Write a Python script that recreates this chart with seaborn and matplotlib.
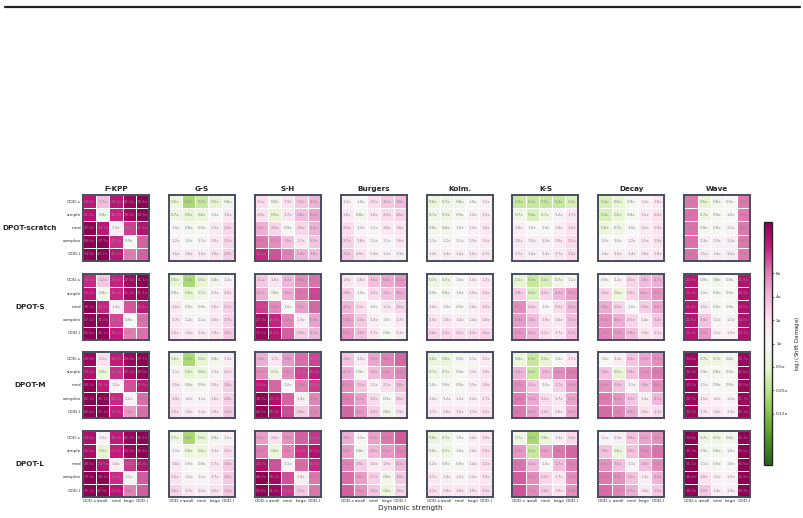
import numpy as np
import matplotlib
matplotlib.use('Agg')
import matplotlib.pyplot as plt
import seaborn as sns
from matplotlib.lines import Line2D

sns.set_style("white")
plt.rcParams['font.family'] = ['DejaVu Sans']

# ====================== DATA ======================
pdes = ['F-KPP', 'G-S', 'S-H', 'Burgers', 'Kolm.', 'K-S', 'Decay', 'Wave']
models = ['DPOT-scratch', 'DPOT-S', 'DPOT-M', 'DPOT-L']
train_labels = ['OOD-s', 'simple', 'med', 'complex', 'OOD-l']
test_labels = ['OOD-s', 'small', 'med', 'large', 'OOD-l']

# shift damage ratios, one 5x5 block per PDE (rows = train, cols = test)
scratch_vals = [
    [[19.9, 3.7, 20.4, 31.4, 39.4], [21.2, 0.8, 16.7, 28.0, 34.9], [47.9, 19.7, 1.3, 13.6, 22.2],
     [68.6, 37.2, 15.2, 0.9, 10.3], [74.9, 42.7, 20.7, 8.1, 10.6]],
    [[0.6, 0.2, 0.3, 0.5, 0.8], [0.7, 0.5, 0.6, 1.0, 1.6], [1.0, 0.8, 0.9, 1.5, 2.4],
     [1.2, 1.0, 1.1, 1.6, 2.5], [1.5, 1.6, 1.5, 1.9, 2.9]],
    [[2.1, 0.8, 1.9, 3.2, 4.4], [2.0, 0.5, 1.7, 3.6, 5.3], [4.6, 2.6, 0.9, 2.5, 4.5],
     [8.7, 6.7, 3.5, 1.7, 3.2], [16.1, 11.9, 7.6, 4.4, 3.8]],
    [[1.2, 1.0, 2.1, 3.1, 3.8], [1.6, 0.8, 1.6, 2.2, 2.6], [2.2, 1.2, 1.1, 1.6, 1.8],
     [2.7, 1.6, 1.1, 1.1, 1.6], [3.2, 2.0, 1.3, 1.2, 1.3]],
    [[0.6, 0.7, 0.8, 1.0, 1.2], [0.7, 0.7, 0.9, 1.2, 1.5], [0.8, 0.8, 1.0, 1.2, 1.6],
     [1.1, 1.1, 1.1, 1.3, 1.5], [1.3, 1.3, 1.4, 1.5, 1.7]],
    [[0.3, 0.3, 0.3, 0.3, 0.4], [0.7, 0.4, 0.7, 1.2, 1.7], [1.4, 1.0, 1.0, 1.4, 2.0],
     [1.6, 1.3, 1.3, 1.6, 2.2], [1.7, 1.4, 1.4, 1.7, 2.2]],
    [[0.4, 0.5, 0.9, 1.2, 1.6], [0.4, 0.5, 0.9, 1.5, 2.0], [0.6, 0.7, 1.0, 1.5, 1.9],
     [1.0, 1.0, 1.2, 1.5, 1.9], [1.4, 1.5, 1.4, 1.6, 1.8]],
    [[8.7, 0.5, 0.8, 0.9, 8.4], [9.0, 0.7, 0.9, 1.0, 8.5], [9.0, 0.9, 0.9, 1.1, 8.6],
     [9.1, 1.3, 1.3, 1.3, 8.6], [9.0, 1.5, 1.4, 1.5, 8.3]],
]

s_vals = [
    [[16.1, 3.2, 17.0, 27.1, 36.1], [20.4, 0.8, 16.3, 26.3, 31.1], [39.7, 16.5, 1.3, 11.3, 19.1],
     [57.1, 31.0, 12.7, 0.9, 9.0], [62.6, 36.1, 18.1, 8.0, 9.1]],
    [[0.5, 0.2, 0.5, 0.8, 1.2], [0.9, 0.5, 0.7, 1.2, 2.0], [1.6, 0.9, 0.9, 1.6, 2.7],
     [1.7, 1.2, 1.1, 1.6, 2.7], [2.0, 1.6, 1.5, 1.9, 3.0]],
    [[3.1, 1.8, 4.2, 6.8, 9.0], [4.7, 0.8, 4.6, 8.8, 13.1], [13.5, 6.8, 1.0, 5.5, 9.8],
     [27.3, 16.8, 7.2, 1.3, 5.4], [32.5, 21.0, 10.4, 2.9, 4.2]],
    [[1.9, 1.6, 3.6, 5.0, 6.1], [2.8, 1.0, 2.2, 3.5, 4.6], [4.2, 2.1, 1.0, 1.7, 2.6],
     [5.3, 3.0, 1.3, 1.0, 1.7], [6.0, 3.6, 1.7, 0.9, 1.3]],
    [[0.7, 0.7, 1.0, 1.3, 1.7], [0.9, 0.8, 1.0, 1.5, 2.0], [1.4, 1.0, 0.9, 1.4, 2.0],
     [1.9, 1.6, 1.4, 1.4, 1.8], [2.6, 2.3, 2.2, 2.2, 2.6]],
    [[0.5, 0.3, 0.4, 0.7, 1.1], [2.9, 0.4, 2.5, 4.3, 5.7], [6.7, 2.4, 1.0, 2.2, 4.2],
     [5.8, 3.8, 1.9, 1.6, 3.7], [6.1, 4.1, 2.1, 1.7, 3.7]],
    [[0.9, 1.2, 2.5, 3.8, 4.7], [2.5, 0.6, 2.5, 4.6, 6.3], [4.8, 2.6, 1.0, 2.9, 5.0],
     [6.4, 4.6, 2.5, 1.4, 3.2], [7.4, 5.8, 3.8, 1.9, 2.1]],
    [[20.8, 0.9, 0.8, 0.9, 21.6], [21.2, 1.0, 0.9, 0.9, 24.0], [21.4, 1.5, 0.9, 0.9, 23.9],
     [21.6, 3.4, 1.1, 1.1, 24.0], [21.2, 6.0, 1.2, 1.2, 23.7]],
]

m_vals = [
    [[29.9, 2.1, 18.0, 29.4, 37.7], [23.0, 0.6, 15.3, 26.7, 34.0], [44.2, 18.3, 1.2, 12.2, 20.6],
     [62.7, 36.1, 16.0, 1.2, 9.3], [66.6, 37.3, 17.2, 5.6, 9.4]],
    [[0.6, 0.2, 0.5, 0.8, 1.3], [1.1, 0.5, 0.6, 1.2, 2.1], [1.5, 0.8, 0.9, 1.6, 2.8],
     [1.9, 1.2, 1.1, 1.6, 2.8], [2.2, 1.6, 1.4, 1.9, 3.2]],
    [[4.6, 1.7, 5.8, 9.5, 13.2], [6.9, 0.7, 6.6, 13.3, 18.3], [19.6, 9.8, 1.0, 7.8, 13.8],
     [38.3, 23.7, 10.3, 1.3, 7.3], [42.6, 26.9, 12.5, 2.8, 7.3]],
    [[3.4, 1.5, 5.0, 7.8, 10.0], [4.7, 0.9, 3.8, 5.9, 7.3], [6.7, 3.1, 1.2, 2.1, 3.8],
     [8.0, 5.2, 2.2, 0.9, 2.6], [9.8, 6.0, 2.8, 0.8, 1.9]],
    [[0.6, 0.6, 0.9, 1.1, 1.5], [0.7, 0.7, 0.9, 1.3, 1.8], [1.0, 0.9, 0.9, 1.3, 1.8],
     [1.4, 1.2, 1.2, 1.4, 1.7], [1.7, 1.6, 1.6, 1.7, 2.0]],
    [[0.6, 0.3, 0.5, 1.0, 1.7], [4.4, 0.3, 3.9, 6.6, 8.1], [6.7, 3.1, 1.0, 2.7, 5.7],
     [8.2, 5.0, 2.2, 1.7, 5.2], [8.7, 5.4, 2.5, 1.6, 5.1]],
    [[1.0, 1.4, 3.4, 5.1, 6.7], [3.5, 0.5, 3.4, 6.3, 8.5], [6.4, 3.4, 1.1, 3.6, 6.6],
     [8.5, 6.1, 3.2, 1.4, 4.1], [9.6, 7.4, 4.8, 2.0, 2.3]],
    [[29.6, 0.7, 0.7, 0.8, 30.7], [30.3, 0.9, 0.8, 0.9, 31.5], [30.3, 1.1, 0.9, 0.9, 31.6],
     [30.7, 1.5, 1.2, 1.1, 31.7], [30.1, 1.7, 1.6, 1.3, 31.3]],
]

l_vals = [
    [[23.6, 1.2, 18.3, 31.2, 40.2], [25.5, 0.5, 17.7, 30.0, 38.4], [49.5, 20.6, 1.4, 13.8, 23.3],
     [70.2, 38.1, 15.4, 1.1, 11.1], [75.7, 42.9, 20.4, 7.8, 10.9]],
    [[0.7, 0.2, 0.5, 0.8, 1.2], [1.1, 0.6, 0.6, 1.3, 2.2], [1.6, 0.9, 0.9, 1.7, 3.0],
     [2.0, 1.2, 1.1, 1.7, 3.0], [2.6, 1.7, 1.5, 2.0, 3.3]],
    [[5.6, 2.0, 6.5, 10.6, 14.8], [8.2, 0.6, 7.8, 15.4, 22.2], [23.7, 11.8, 1.1, 9.6, 16.5],
     [46.0, 28.3, 12.1, 1.3, 8.6], [50.8, 31.9, 14.6, 3.1, 8.7]],
    [[4.6, 1.1, 5.3, 8.7, 11.1], [5.8, 0.8, 4.0, 6.1, 7.8], [7.4, 2.8, 1.5, 1.9, 4.1],
     [9.4, 5.6, 2.7, 0.8, 3.0], [10.6, 6.5, 3.2, 0.6, 2.6]],
    [[0.6, 0.7, 1.0, 1.4, 1.9], [0.8, 0.7, 1.0, 1.4, 2.2], [1.2, 0.9, 0.9, 1.4, 2.1],
     [1.7, 1.4, 1.2, 1.4, 1.9], [2.1, 1.9, 1.8, 1.9, 2.3]],
    [[0.7, 0.2, 0.6, 1.3, 2.3], [5.9, 0.3, 5.4, 8.6, 10.0], [8.9, 4.2, 1.0, 3.7, 7.6],
     [10.7, 6.8, 2.5, 1.7, 6.6], [11.7, 7.1, 2.9, 1.9, 6.7]],
    [[1.1, 1.3, 3.4, 5.2, 6.5], [3.5, 0.6, 3.5, 6.6, 8.9], [6.5, 3.6, 1.1, 3.6, 6.8],
     [8.6, 6.3, 3.5, 1.3, 4.4], [9.7, 7.5, 4.7, 1.6, 3.1]],
    [[34.8, 0.7, 0.7, 0.8, 35.4], [35.9, 0.9, 0.8, 1.0, 36.6], [36.1, 1.1, 0.9, 1.0, 36.5],
     [36.4, 2.0, 1.2, 1.2, 36.8], [36.0, 3.2, 1.4, 1.3, 36.4]],
]

all_vals = [scratch_vals, s_vals, m_vals, l_vals]

cbar_ticks = [-3, -2, -1, 0, 1, 2, 3]
cbar_ticklabels = ['0.12x', '0.25x', '0.5x', '1x', '2x', '4x', '8x']

# ====================== FIGURE ======================
W, H = 804, 518
fig = plt.figure(figsize=(W / 100, H / 100), dpi=100)
VLIM = 5.2
cmap = 'PiYG_r'


def px_axes(x0, y0, w, h):
    return fig.add_axes([x0 / W, 1 - (y0 + h) / H, w / W, h / H])


left0, dx = 83, 85.9
top0, dy = 195, 78.7
size = 66

for i, model in enumerate(models):
    for j, pde in enumerate(pdes):
        vals = np.array(all_vals[i][j])
        ax = px_axes(left0 + j * dx, top0 + i * dy, size, size)
        labels = np.vectorize(lambda v: f'{v:.1f}x')(vals)
        sns.heatmap(np.log2(vals), ax=ax, cmap=cmap, vmin=-VLIM, vmax=VLIM,
                    annot=labels, fmt='', cbar=False, linewidths=0.6, linecolor='white',
                    annot_kws={'fontsize': 2.9, 'color': '#8a8a8a'},
                    xticklabels=test_labels, yticklabels=train_labels)
        for s in ax.spines.values():
            s.set_visible(True)
            s.set_color('#454e60')
            s.set_linewidth(1.4)
        ax.tick_params(length=0, pad=1.5)
        if j == 0:
            ax.set_yticklabels(train_labels, rotation=0, fontsize=3.2, color='#333333')
        else:
            ax.set_yticklabels([])
        if i == len(models) - 1:
            ax.set_xticklabels(test_labels, rotation=0, fontsize=3.2, color='#333333')
        else:
            ax.set_xticklabels([])
        if i == 0:
            ax.set_title(pde, fontsize=5.2, fontweight='bold', pad=3)
    fig.text(30 / W, 1 - (top0 + i * dy + size / 2) / H, model,
             fontsize=5.2, fontweight='bold', ha='center', va='center')

fig.text(410 / W, 1 - 508 / H, 'Dynamic strength', fontsize=5.2, ha='center', va='center')

# colorbar
cax = px_axes(764, 222, 8, 243)
sm = plt.cm.ScalarMappable(cmap=cmap, norm=plt.Normalize(-VLIM, VLIM))
cb = fig.colorbar(sm, cax=cax)
cb.set_ticks(cbar_ticks)
cb.set_ticklabels(cbar_ticklabels)
cb.ax.tick_params(labelsize=3.2, length=1.5, width=0.5, pad=1.5)
cb.outline.set_linewidth(1.0)
cb.set_label(r'$\log_2$(Shift Damage)', fontsize=4, labelpad=3)

# top rule
fig.add_artist(Line2D([5 / W, 800 / W], [1 - 7 / H, 1 - 7 / H], color='#222222', lw=1.6))

plt.savefig('out.png', dpi=100)
